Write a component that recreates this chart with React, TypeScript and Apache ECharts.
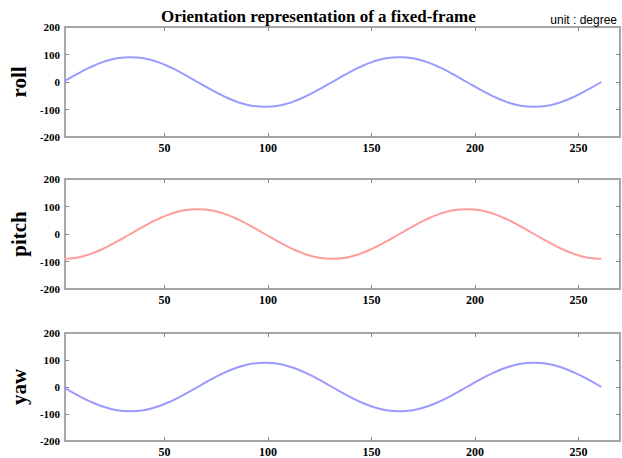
import React, { useEffect, useRef } from "react";
import * as echarts from "echarts";

const titleText = "Orientation representation of a fixed-frame";
const unitText = "unit : degree";
const panelNames = ["roll", "pitch", "yaw"];
const xTicks = [50, 100, 150, 200, 250];
const yInnerTicks = [-100, 0, 100];

const sampleX = [
  1, 7.5, 14, 20.5, 27, 33.5, 40, 46.5, 53, 59.5, 66, 72.5, 79, 85.5, 92, 98.5, 105,
  111.5, 118, 124.5, 131, 137.5, 144, 150.5, 157, 163.5, 170, 176.5, 183, 189.5, 196,
  202.5, 209, 215.5, 222, 228.5, 235, 241.5, 248, 254.5, 261,
];

const rollValues = [
  0, 28, 53, 73, 86, 90, 86, 73, 53, 28, 0, -28, -53, -73, -86, -90, -86, -73, -53, -28,
  0, 28, 53, 73, 86, 90, 86, 73, 53, 28, 0, -28, -53, -73, -86, -90, -86, -73, -53, -28, 0,
];

const pitchValues = [
  -90, -86, -73, -53, -28, 0, 28, 53, 73, 86, 90, 86, 73, 53, 28, 0, -28, -53, -73, -86,
  -90, -86, -73, -53, -28, 0, 28, 53, 73, 86, 90, 86, 73, 53, 28, 0, -28, -53, -73, -86, -90,
];

const yawValues = [
  0, -28, -53, -73, -86, -90, -86, -73, -53, -28, 0, 28, 53, 73, 86, 90, 86, 73, 53, 28,
  0, -28, -53, -73, -86, -90, -86, -73, -53, -28, 0, 28, 53, 73, 86, 90, 86, 73, 53, 28, 0,
];

const seriesValues = [rollValues, pitchValues, yawValues];
const lineColors = ["#9a9aff", "#ff9c9c", "#9a9aff"];
const gridTops = [27, 179, 333];

const serif = "'Liberation Serif', 'Times New Roman', serif";

export default function App() {
  const ref = useRef<HTMLDivElement>(null);
  useEffect(() => {
    if (!ref.current) return;
    const chart = echarts.init(ref.current, undefined, { renderer: "svg" });
    const grids: any[] = [];
    const xAxes: any[] = [];
    const yAxes: any[] = [];
    const series: any[] = [];
    panelNames.forEach((name, i) => {
      grids.push({
        left: 45,
        top: gridTops[i],
        width: 575,
        height: 110,
        show: true,
        borderColor: "#a6a6a6",
        borderWidth: 2,
        backgroundColor: "transparent",
      });
      const tickStyle = { inside: true, length: 4, lineStyle: { color: "#888", width: 1 } };
      const hiddenLine = { show: false, onZero: false };
      xAxes.push({
        type: "value",
        gridIndex: i,
        position: "bottom",
        min: 2,
        max: 270,
        axisLine: hiddenLine,
        splitLine: { show: false },
        axisTick: { ...tickStyle, customValues: xTicks },
        axisLabel: {
          customValues: xTicks,
          fontFamily: serif,
          fontWeight: "bold",
          fontSize: 12,
          color: "#000",
          margin: 5,
        },
      });
      xAxes.push({
        type: "value",
        gridIndex: i,
        position: "top",
        min: 2,
        max: 270,
        axisLine: hiddenLine,
        splitLine: { show: false },
        axisTick: { ...tickStyle, customValues: xTicks },
        axisLabel: { show: false },
      });
      yAxes.push({
        type: "value",
        gridIndex: i,
        position: "left",
        min: -200,
        max: 200,
        interval: 100,
        axisLine: hiddenLine,
        splitLine: { show: false },
        axisTick: { ...tickStyle, customValues: yInnerTicks },
        axisLabel: {
          fontFamily: serif,
          fontWeight: "bold",
          fontSize: 11,
          color: "#000",
          margin: 5,
        },
        name,
        nameLocation: "middle",
        nameRotate: 90,
        nameGap: 20,
        nameTextStyle: {
          fontFamily: serif,
          fontWeight: "bold",
          fontSize: 21,
          color: "#000",
        },
      });
      yAxes.push({
        type: "value",
        gridIndex: i,
        position: "right",
        min: -200,
        max: 200,
        interval: 100,
        axisLine: hiddenLine,
        splitLine: { show: false },
        axisTick: { ...tickStyle, customValues: yInnerTicks },
        axisLabel: { show: false },
      });
      series.push({
        type: "line",
        xAxisIndex: i * 2,
        yAxisIndex: i * 2,
        data: sampleX.map((x, k) => [x, seriesValues[i][k]]),
        showSymbol: false,
        smooth: true,
        lineStyle: { color: lineColors[i], width: 2 },
        itemStyle: { color: lineColors[i] },
      });
    });
    chart.setOption({
      animation: false,
      backgroundColor: "#fff",
      title: [
        {
          text: titleText,
          left: 156,
          top: 3,
          textStyle: { fontFamily: serif, fontWeight: "bold", fontSize: 17, color: "#000" },
        },
        {
          text: unitText,
          right: 0,
          top: 9,
          textStyle: {
            fontFamily: "'Liberation Sans', Arial, sans-serif",
            fontWeight: "normal",
            fontSize: 12,
            color: "#000",
          },
        },
      ],
      grid: grids,
      xAxis: xAxes,
      yAxis: yAxes,
      series,
    });
    return () => chart.dispose();
  }, []);
  return (
    <div
      ref={ref}
      style={{ position: "fixed", left: 0, top: 0, width: 622, height: 458 }}
    />
  );
}
